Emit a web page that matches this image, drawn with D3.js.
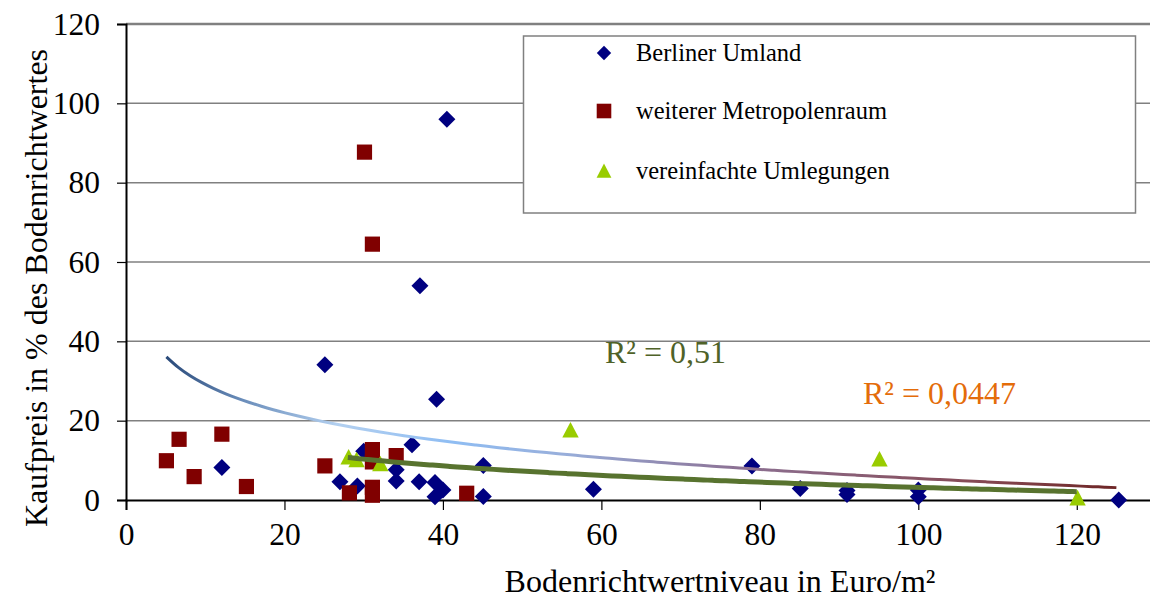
<!DOCTYPE html>
<html>
<head>
<meta charset="utf-8">
<script src="https://cdn.jsdelivr.net/npm/d3@7"></script>
<style>
  body { margin: 0; background: #fff; }
  svg { display: block; }
  text { font-family: "Liberation Serif", "Times New Roman", serif; }
</style>
</head>
<body>
<svg width="1150" height="598"></svg>
<script>
"use strict";

// series: [Bodenrichtwertniveau, Kaufpreis in %]
const berlinerUmland = [
  [12.1, 8.2], [25.1, 34.1], [27, 4.6], [29.2, 3.5], [30, 12.3], [34.1, 7.6],
  [34.1, 4.8], [36.1, 13.9], [37, 4.6], [37.1, 54], [39.2, 25.4], [40.5, 96],
  [39, 4.4], [40, 2.5], [39, 0.8], [45.1, 8.7], [45.1, 0.9], [59, 2.7],
  [79, 8.6], [85.1, 2.9], [91, 2.4], [91, 1.4], [100, 2.5], [100, 0.8], [125.3, 0]
];
const weitererMetropolenraum = [
  [5.1, 9.9], [6.7, 15.3], [8.6, 5.9], [12.1, 16.6], [15.2, 3.4], [25.1, 8.6],
  [28.2, 1.8], [30.1, 87.7], [31.1, 64.5], [31.1, 12.7], [31.1, 9.6], [31.1, 3.2],
  [31.1, 1.2], [34.1, 11.2], [43, 1.7]
];
const vereinfachteUmlegungen = [
  [28.1, 10.8], [29.1, 10.1], [32.1, 9.1], [56.1, 17.6], [95.1, 10.3], [120.1, 0.5]
];

// logarithmic trend lines y = a + b * ln(x), estimated from the drawn curves
const trendAll = { a: 52.9, b: -10.31, from: 5.1, to: 125 };
const trendUmlegung = { a: 30.4, b: -5.91, from: 28, to: 120 };
const r2Labels = ["R² = 0,51", "R² = 0,0447"];

const seriesNames = ["Berliner Umland", "weiterer Metropolenraum", "vereinfachte Umlegungen"];
const xTicks = [0, 20, 40, 60, 80, 100, 120];
const yTicks = [0, 20, 40, 60, 80, 100, 120];

const plotLeft = 126, plotRight = 1156, plotTop = 24, plotBottom = 500;
const svg = d3.select("svg");

const xScale = d3.scaleLinear().domain([0, 130]).range([plotLeft, plotRight]);
const yScale = d3.scaleLinear().domain([0, 120]).range([plotBottom, plotTop]);

// gridlines
svg.append("g").selectAll("line")
  .data(yTicks.filter(t => t > 0))
  .join("line")
    .attr("x1", plotLeft).attr("x2", plotRight)
    .attr("y1", d => yScale(d)).attr("y2", d => yScale(d))
    .attr("stroke", "#808080").attr("stroke-width", d => d === 120 ? 2.5 : 1.5);

// axes
const yAxis = d3.axisLeft(yScale).tickValues(yTicks).tickSize(9).tickPadding(17);
svg.append("g").attr("transform", `translate(${plotLeft},0)`).call(yAxis)
  .call(g => g.select(".domain").attr("stroke", "#000").attr("stroke-width", 2))
  .call(g => g.selectAll(".tick line").attr("stroke", "#000").attr("stroke-width", 1.2))
  .call(g => g.selectAll(".tick text").attr("font-size", 31.5).attr("fill", "#000")
    .attr("font-family", "Liberation Serif"));

const xAxis = d3.axisBottom(xScale).tickValues(xTicks).tickSize(10).tickPadding(13);
svg.append("g").attr("transform", `translate(0,${plotBottom})`).call(xAxis)
  .call(g => g.select(".domain").attr("stroke", "#000").attr("stroke-width", 2))
  .call(g => g.selectAll(".tick line").attr("stroke", "#000").attr("stroke-width", 1.2))
  .call(g => g.selectAll(".tick text").attr("font-size", 31.5).attr("fill", "#000")
    .attr("font-family", "Liberation Serif"));

// axis titles
svg.append("text")
  .attr("x", 720).attr("y", 592)
  .attr("text-anchor", "middle").attr("font-size", 32)
  .text("Bodenrichtwertniveau in Euro/m²");
svg.append("text")
  .attr("transform", "translate(47,288) rotate(-90)")
  .attr("text-anchor", "middle").attr("font-size", 32)
  .text("Kaufpreis in % des Bodenrichtwertes");

// marker shapes
function diamond(s) { return `M0,${-s}L${s},0L0,${s}L${-s},0Z`; }
function square(s) { return `M${-s},${-s}H${s}V${s}H${-s}Z`; }
function triangle(s) { return `M0,${-s}L${s},${s * 0.9}L${-s},${s * 0.9}Z`; }

const markers = [
  { data: berlinerUmland, path: diamond(8.5), fill: "#000080" },
  { data: weitererMetropolenraum, path: square(7.6), fill: "#800000" },
  { data: vereinfachteUmlegungen, path: triangle(8.2), fill: "#99CC00" }
];

markers.forEach(m => {
  svg.append("g").selectAll("path")
    .data(m.data)
    .join("path")
      .attr("transform", d => `translate(${xScale(d[0])},${yScale(d[1])})`)
      .attr("d", m.path)
      .attr("fill", m.fill);
});

// trend lines
function trendPoints(t) {
  const n = 80;
  return d3.range(n + 1).map(i => {
    const x = t.from + (t.to - t.from) * i / n;
    return [x, t.a + t.b * Math.log(x)];
  });
}
const line = d3.line().x(d => xScale(d[0])).y(d => yScale(d[1])).curve(d3.curveMonotoneX);

const defs = svg.append("defs");
const grad = defs.append("linearGradient")
  .attr("id", "trendGrad").attr("gradientUnits", "userSpaceOnUse")
  .attr("x1", xScale(trendAll.from)).attr("x2", xScale(trendAll.to))
  .attr("y1", 0).attr("y2", 0);
[[0, "#2A4A7A"], [0.08, "#6A8DBA"], [0.18, "#B3D0F0"], [0.3, "#8FBDF3"],
 [0.42, "#98AEDA"], [0.6, "#8C7194"], [0.85, "#864A55"], [1, "#6E2626"]]
  .forEach(s => grad.append("stop").attr("offset", s[0]).attr("stop-color", s[1]));

svg.append("path")
  .attr("d", line(trendPoints(trendAll)))
  .attr("fill", "none").attr("stroke", "url(#trendGrad)").attr("stroke-width", 3);

svg.append("path")
  .attr("d", line(trendPoints(trendUmlegung)))
  .attr("fill", "none").attr("stroke", "#58732F").attr("stroke-width", 5);

// R² labels
svg.append("text").attr("x", 605).attr("y", 363)
  .attr("font-size", 32).attr("fill", "#4F6228").text(r2Labels[0]);
svg.append("text").attr("x", 863).attr("y", 404)
  .attr("font-size", 32).attr("fill", "#E46C0A").text(r2Labels[1]);

// legend
const legend = svg.append("g");
legend.append("rect")
  .attr("x", 523.5).attr("y", 36).attr("width", 612).attr("height", 177)
  .attr("fill", "#fff").attr("stroke", "#808080").attr("stroke-width", 1.5);
const rowY = [53, 111, 171];
const legendRows = legend.selectAll("g.row")
  .data(markers)
  .join("g").attr("class", "row")
    .attr("transform", (d, i) => `translate(604,${rowY[i]})`);
legendRows.append("path")
  .attr("d", (d, i) => [diamond(7.2), square(7.3), triangle(7.4)][i])
  .attr("fill", d => d.fill);
legendRows.append("text")
  .attr("x", 32).attr("y", 8)
  .attr("font-size", 24.5)
  .text((d, i) => seriesNames[i]);
</script>
</body>
</html>
